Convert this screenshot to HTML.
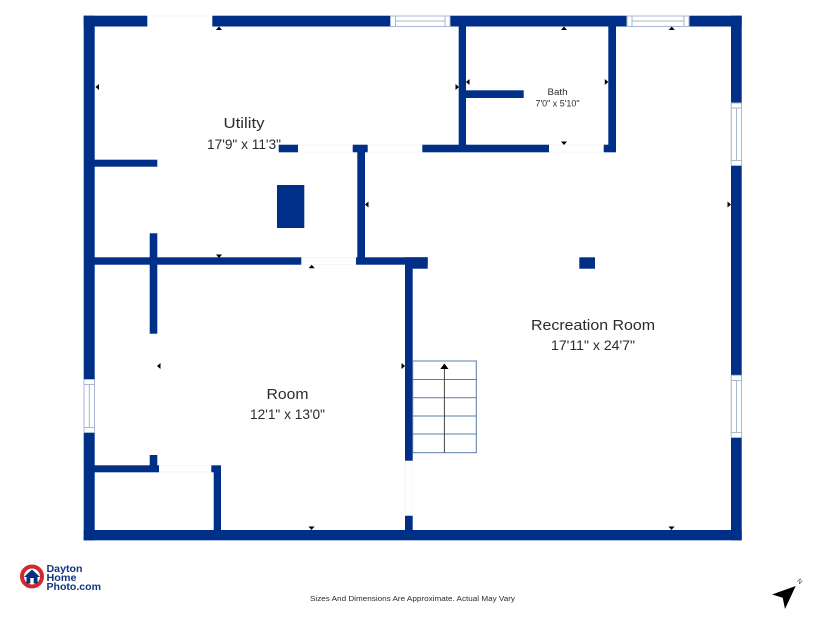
<!DOCTYPE html>
<html><head><meta charset="utf-8"><style>
html,body{margin:0;padding:0;background:#fff;width:825px;height:619px;overflow:hidden}
svg{display:block}
text{font-family:"Liberation Sans",sans-serif;text-anchor:middle;fill:#2b2b2b}
</style></head><body>
<svg width="825" height="619" viewBox="0 0 825 619" xmlns="http://www.w3.org/2000/svg">
<rect width="825" height="619" fill="#fff"/>
<g fill="#002f87">
<!-- outer -->
<rect x="83.7" y="15.7" width="63.6" height="10.8"/>
<rect x="212.3" y="15.7" width="178" height="10.8"/>
<rect x="450" y="15.7" width="176.7" height="10.8"/>
<rect x="689" y="15.7" width="52.7" height="10.8"/>
<rect x="83.7" y="15.7" width="11" height="363.6"/>
<rect x="83.7" y="432.7" width="11" height="107.6"/>
<rect x="83.7" y="530" width="658" height="10.3"/>
<rect x="731" y="15.7" width="10.7" height="87"/>
<rect x="731" y="165.7" width="10.7" height="209.3"/>
<rect x="731" y="437.7" width="10.7" height="102.6"/>
<!-- interior -->
<rect x="94" y="159.7" width="63.3" height="7"/>
<rect x="94" y="257.3" width="207.3" height="7.4"/>
<rect x="356" y="257.3" width="71.7" height="7.4"/>
<rect x="405" y="257.3" width="22.7" height="11.4"/>
<rect x="149.7" y="233.3" width="7.6" height="100.4"/>
<rect x="357.3" y="145" width="7.7" height="113"/>
<rect x="278.7" y="144.7" width="19.3" height="7.6"/>
<rect x="352.7" y="144.7" width="15" height="7.6"/>
<rect x="422.3" y="144.7" width="126.7" height="7.6"/>
<rect x="603.7" y="144.7" width="12.3" height="7.6"/>
<rect x="458.7" y="26" width="7.3" height="120"/>
<rect x="608.3" y="26" width="7.7" height="120"/>
<rect x="466" y="90.3" width="57.7" height="7.7"/>
<rect x="277" y="185" width="27.3" height="43"/>
<rect x="579.3" y="257.3" width="15.7" height="11.4"/>
<rect x="405" y="265" width="7.7" height="195.7"/>
<rect x="405" y="515.7" width="7.7" height="15"/>
<rect x="94" y="465.3" width="65" height="7"/>
<rect x="149.7" y="455" width="7.6" height="11"/>
<rect x="211.3" y="465.3" width="9.7" height="7"/>
<rect x="213.7" y="472" width="7.3" height="58.5"/>
</g>
<!-- windows -->
<g fill="#fff" stroke="#aab7d2" stroke-width="1">
<rect x="390.5" y="16" width="59.5" height="10.5"/>
<rect x="395.5" y="16" width="49.5" height="10.5"/>
<line x1="395.5" y1="21" x2="445" y2="21"/>
<rect x="627" y="16" width="62" height="10.5"/>
<rect x="632" y="16" width="52" height="10.5"/>
<line x1="632" y1="21" x2="684" y2="21"/>
<rect x="84" y="379.5" width="10.5" height="53"/>
<rect x="84" y="384.5" width="10.5" height="43"/>
<line x1="89.3" y1="384.5" x2="89.3" y2="427.5"/>
<rect x="731.3" y="103" width="10.2" height="62.5"/>
<rect x="731.3" y="108" width="10.2" height="52.5"/>
<line x1="736.5" y1="108" x2="736.5" y2="160.5"/>
<rect x="731.3" y="375.3" width="10.2" height="62.2"/>
<rect x="731.3" y="380.5" width="10.2" height="52"/>
<line x1="736.5" y1="380.5" x2="736.5" y2="432.5"/>
</g>
<!-- door gaps faint -->
<g fill="none" stroke="#f5f6f9" stroke-width="1">
<path d="M147.3 16H212.3"/>
<path d="M298 145H352.7M298 152H352.7M367.7 145H422.3M367.7 152H422.3M549 145H603.7M549 152H603.7"/>
<path d="M301.3 257.5H356M301.3 264.5H356"/>
<path d="M159 465.5H211.3M159 472H211.3"/>
<path d="M405.5 461V515.7M412.3 461V515.7"/>
</g>
<!-- stairs -->
<g fill="none" stroke="#5d7aa8" stroke-width="1">
<rect x="412.7" y="361" width="63.6" height="91.7"/>
<path d="M412.7 379.5H476.3M412.7 397.7H476.3M412.7 416H476.3M412.7 434H476.3"/>
</g>
<line x1="444.4" y1="366" x2="444.4" y2="452.7" stroke="#444" stroke-width="1"/>
<polygon points="444.4,363.5 448.5,369 440.3,369" fill="#000"/>
<!-- markers -->
<g fill="#000">
<polygon points="219,26.5 222,30 216,30"/>
<polygon points="564,26.5 567,30 561,30"/>
<polygon points="671.7,26.5 674.7,30 668.7,30"/>
<polygon points="95.5,87 99,84 99,90"/>
<polygon points="466,82 469.5,79 469.5,85"/>
<polygon points="459,87 455.5,84 455.5,90"/>
<polygon points="608.3,82 604.8,79 604.8,85"/>
<polygon points="731,204.5 727.5,201.5 727.5,207.5"/>
<polygon points="365,204.5 368.5,201.5 368.5,207.5"/>
<polygon points="219,258 222,254.5 216,254.5"/>
<polygon points="564,145 567,141.5 561,141.5"/>
<polygon points="311.7,264.7 314.7,268.3 308.7,268.3"/>
<polygon points="157,366 160.5,363 160.5,369"/>
<polygon points="405,366 401.5,363 401.5,369"/>
<polygon points="311.5,530 314.5,526.5 308.5,526.5"/>
<polygon points="671.5,530 674.5,526.5 668.5,526.5"/>
</g>
<!-- labels -->
<text x="244" y="128" font-size="15" textLength="41" lengthAdjust="spacingAndGlyphs">Utility</text>
<text x="244" y="149" font-size="14" textLength="74" lengthAdjust="spacingAndGlyphs">17'9" x 11'3"</text>
<text x="557.5" y="95" font-size="9" fill="#444" textLength="20" lengthAdjust="spacingAndGlyphs">Bath</text>
<text x="557.5" y="106.5" font-size="9" fill="#444" textLength="44" lengthAdjust="spacingAndGlyphs">7'0" x 5'10"</text>
<text x="593" y="330" font-size="14.5" textLength="124" lengthAdjust="spacingAndGlyphs">Recreation Room</text>
<text x="593" y="350" font-size="14" textLength="84" lengthAdjust="spacingAndGlyphs">17'11" x 24'7"</text>
<text x="287.5" y="399" font-size="15" textLength="42" lengthAdjust="spacingAndGlyphs">Room</text>
<text x="287.5" y="419" font-size="14" textLength="75" lengthAdjust="spacingAndGlyphs">12'1" x 13'0"</text>
<text x="412.5" y="601" font-size="7.7" fill="#444" textLength="205" lengthAdjust="spacingAndGlyphs">Sizes And Dimensions Are Approximate. Actual May Vary</text>
<!-- logo -->
<circle cx="32" cy="576.5" r="10" fill="#fff" stroke="#d0282e" stroke-width="4"/>
<polygon points="32,569.5 40,577 37.5,577 37.5,583.5 26.5,583.5 26.5,577 24,577" fill="#00307f"/>
<rect x="30.3" y="578" width="3.4" height="5.5" fill="#fff"/>
<text x="46.5" y="572" font-size="10.5" style="text-anchor:start;fill:#10357f;font-weight:bold" textLength="36" lengthAdjust="spacingAndGlyphs">Dayton</text>
<text x="46.5" y="581" font-size="10.5" style="text-anchor:start;fill:#10357f;font-weight:bold" textLength="30" lengthAdjust="spacingAndGlyphs">Home</text>
<text x="46.5" y="590" font-size="10.5" style="text-anchor:start;fill:#10357f;font-weight:bold" textLength="54.5" lengthAdjust="spacingAndGlyphs">Photo.com</text>
<!-- compass -->
<polygon points="795.7,586 772,594.5 782.7,597.7 785,609" fill="#000"/>
<text x="800" y="583.5" font-size="6.5" fill="#333" transform="rotate(45 800 581)">N</text>
</svg>
</body></html>
